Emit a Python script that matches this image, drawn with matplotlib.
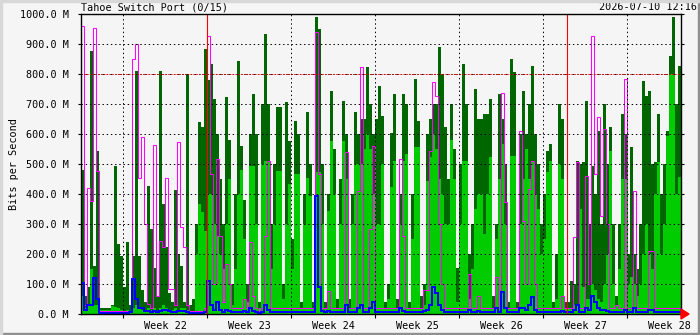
import numpy as np
import matplotlib
matplotlib.use("Agg")
import matplotlib.pyplot as plt
from matplotlib.patches import Rectangle, Polygon

# ---- data (Mbit/s), one value per 6-hour bin, left edge = 2026-05-21 12:00 ----
in_max_a = [480,60,90,877,160,545,20,20,20,20,30,494,233,194,90,239,30,194,810,194,80,40,427,283,155,60,810,367,222,70,40,414,200,161]
in_avg_a = [60,20,30,150,30,30,12,12,12,12,28,25,20,15,10,15,10,20,30,20,15,10,20,15,20,10,20,30,20,15,15,20,15,20]
out_max_a = [960,30,420,377,955,478,10,10,10,10,10,10,10,10,10,10,10,850,900,455,589,300,33,20,563,60,244,222,455,83,83,30,572,289]
out_avg_a = [105,15,30,30,120,50,5,5,5,5,5,5,5,5,5,5,8,117,50,20,20,10,10,8,10,8,10,15,15,10,8,8,10,10]

in_max_b = [40,800,30,50,300,639,622,883,780,833,717,600,450,300,722,580,100,400,844,560,380,100,600,733,600,40,700,933,700,300,500,689,689]
in_avg_b = [20,15,10,10,200,367,340,278,400,400,300,261,200,150,300,450,30,150,400,480,250,40,494,494,300,20,500,511,511,150,300,478,478]
out_max_b = [222,30,10,10,10,10,10,20,928,467,100,517,261,40,167,100,20,20,20,20,50,20,239,60,20,10,20,261,511,20,20,20,20]
out_avg_b = [10,8,5,5,5,5,5,8,111,30,15,40,15,8,15,10,8,8,8,8,10,8,20,10,8,5,8,30,15,8,8,8,8]

in_max_c = [100,706,578,250,644,600,40,400,672,500,40,989,950,500,40,400,744,550,50,450,711,600,50,400,672,600,650,650,822,700,600,650,761]
in_avg_c = [50,300,433,150,467,467,20,300,455,394,20,472,472,300,20,344,578,400,20,300,578,450,20,300,500,500,500,550,600,550,400,300,300]
out_max_c = [20,20,20,20,20,20,20,20,20,20,20,939,467,20,20,78,20,20,20,20,20,539,20,20,20,411,822,20,20,283,561,20,20]
out_avg_c = [8,8,8,8,8,8,8,8,8,8,8,394,89,10,8,10,8,8,8,8,8,30,8,8,8,20,30,8,8,20,40,8,8]

in_max_d = [661,40,100,605,733,50,400,733,700,40,400,783,644,60,100,600,650,700,700,889,800,622,450,700,550,155,500,833,700,200,300,750,650]
in_avg_d = [500,20,50,422,511,20,300,511,533,20,250,556,556,20,30,444,522,600,550,450,400,300,300,580,450,40,300,511,511,50,150,350,400]
out_max_d = [20,20,20,20,20,20,517,261,20,20,20,20,20,20,80,80,544,772,728,300,100,20,20,20,20,20,20,20,20,133,20,20,61]
out_avg_d = [8,8,8,8,8,8,20,10,8,8,8,8,8,8,10,15,30,89,70,30,15,8,8,8,8,8,8,8,8,15,8,8,10]

in_max_e = [650,667,667,717,60,300,733,650,500,40,850,806,40,600,744,600,700,828,600,500,300,400,544,567,40,200,700,650,40,40,111,100,511,500]
in_avg_e = [400,267,400,522,20,250,450,567,300,20,528,528,20,300,450,550,450,511,400,350,200,250,472,511,20,50,500,450,20,20,20,30,30,350]
out_max_e = [20,20,20,20,20,122,20,736,372,20,20,20,20,611,311,100,417,511,100,20,20,20,20,20,20,20,20,60,20,20,20,256,506,20]
out_avg_e = [8,8,8,8,8,20,8,72,20,8,8,8,8,20,20,15,30,56,15,8,8,8,8,8,8,8,8,10,8,8,8,15,30,8]

in_max_f = [506,711,300,494,400,611,300,700,500,622,300,60,300,667,600,200,556,200,150,300,778,728,744,500,506,667,400,500,611,861,989,700,828]
in_avg_f = [89,50,50,100,80,50,40,100,200,544,100,30,150,450,450,100,122,100,60,100,200,300,200,150,400,506,200,300,594,800,800,400,456]
out_max_f = [20,461,100,928,467,656,328,617,300,20,20,30,20,20,783,20,20,411,20,20,20,20,211,211,20,20,20,20,20,20,20,20,20]
out_avg_f = [8,20,15,61,40,20,15,15,10,8,8,8,8,8,15,8,8,20,8,8,8,8,15,15,8,8,8,8,8,8,8,8,8]

week_labels = ["Week 22", "Week 23", "Week 24", "Week 25", "Week 26", "Week 27", "Week 28"]
week_starts = [3.5, 10.5, 17.5, 24.5, 31.5, 38.5, 45.5]   # days from left edge
month_starts = [10.5, 40.5]
title = "Tahoe Switch Port (0/15)"
stamp = "2026-07-10 12:16"

in_max = np.array(in_max_a + in_max_b + in_max_c + in_max_d + in_max_e + in_max_f, float)
in_avg = np.array(in_avg_a + in_avg_b + in_avg_c + in_avg_d + in_avg_e + in_avg_f, float)
out_max = np.array(out_max_a + out_max_b + out_max_c + out_max_d + out_max_e + out_max_f, float)
out_avg = np.array(out_avg_a + out_avg_b + out_avg_c + out_avg_d + out_avg_e + out_avg_f, float)
bin_days = 0.25
edges = np.arange(len(in_max) + 1) * bin_days

W, H = 700, 335
BG = "#f5f5f5"
MONO = "DejaVu Sans Mono"
FS = 7.3

fig = plt.figure(figsize=(W / 100, H / 100), dpi=100)
fig.patch.set_facecolor(BG)
ax = fig.add_axes([81 / W, 21 / H, 600 / W, 300 / H])
ax.set_facecolor(BG)

ax.stairs(in_max, edges, fill=True, color="#006600", zorder=1, baseline=0)
ax.stairs(in_avg, edges, fill=True, color="#00cc00", zorder=2, baseline=0)
ax.stairs(out_max, edges, color="#ff00ff", lw=0.75, zorder=3, baseline=None)
ax.stairs(out_avg, edges, color="#0000ff", lw=1.45, zorder=4, baseline=None)

ax.set_xlim(0, edges[-1])
ax.set_ylim(0, 1000)

# grid (drawn above the data, like MRTG)
dots = dict(color="black", lw=0.72, dashes=(1.4, 2.8), zorder=6)
for yv in range(100, 1000, 100):
    ax.axhline(yv, **dots)
ax.plot([0, edges[-1]], [800, 800], color="#dd0000", lw=0.72, dashes=(1.4, 1.4), zorder=7)
for xv in week_starts:
    ax.axvline(xv, **dots)
for xv in month_starts:
    ax.axvline(xv, color="#ff0000", lw=0.8, zorder=8)

# axes / ticks
for s in ax.spines.values():
    s.set_color("black")
    s.set_linewidth(1.0)
    s.set_zorder(9)
ax.set_yticks(range(0, 1001, 100))
ax.set_yticklabels([f"{v:.1f} M" for v in range(0, 1001, 100)], family=MONO, fontsize=FS)
ax.tick_params(axis="y", which="major", length=2, width=0.8, pad=7, right=True, direction="out")
ax.set_xticks(week_starts)
ax.set_xticklabels([])
ax.tick_params(axis="x", which="major", length=3, width=0.8)
ax.set_xticks([w + 3.5 for w in week_starts], minor=True)
ax.set_xticklabels(week_labels, minor=True, family=MONO, fontsize=FS)
ax.tick_params(axis="x", which="minor", length=0, pad=5)

fig.text(81 / W, 1 - 7 / H, title, family=MONO, fontsize=FS, va="center", ha="left")
fig.text(697 / W, 1 - 7 / H, stamp, family=MONO, fontsize=FS, va="center", ha="right")
fig.text(14 / W, 1 - 164 / H, "Bits per Second", family=MONO, fontsize=FS,
         rotation=90, va="center", ha="center")

# red arrow at end of x axis
fig.patches.append(Polygon([(681 / W, 1 - 309 / H), (681 / W, 1 - 319 / H), (689 / W, 1 - 314 / H)],
                           closed=True, transform=fig.transFigure, color="red", zorder=10))
# frame border
fig.patches.append(Rectangle((0, 0), 1, 2 / H, transform=fig.transFigure, color="#909090", zorder=10))
fig.patches.append(Rectangle((1 - 2 / W, 0), 2 / W, 1, transform=fig.transFigure, color="#909090", zorder=10))
fig.patches.append(Rectangle((0, 1 - 2 / H), 1, 2 / H, transform=fig.transFigure, color="#d8d8d8", zorder=10))
fig.patches.append(Rectangle((0, 0), 2 / W, 1, transform=fig.transFigure, color="#d8d8d8", zorder=10))

fig.savefig("out.png", dpi=100, facecolor=BG)
